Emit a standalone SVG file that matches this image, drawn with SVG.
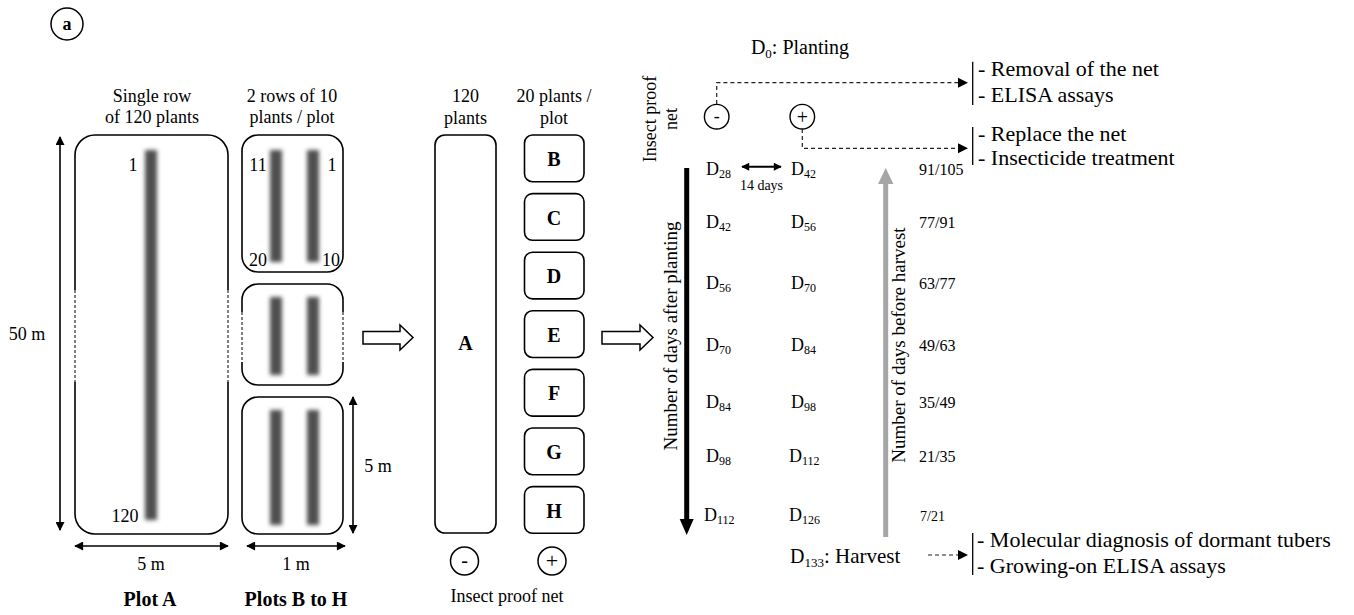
<svg xmlns="http://www.w3.org/2000/svg" width="1354" height="615" viewBox="0 0 1354 615">
<defs>
<style>
text{font-family:"Liberation Serif","Times New Roman",serif;fill:#000}
.s14{font-size:14px}.s16{font-size:16px}.s18{font-size:18px}.s19{font-size:19px}.s20{font-size:20px}.s22{font-size:22px}
.b{font-weight:bold}
.m{text-anchor:middle}
.box{fill:#fff;stroke:#000;stroke-width:1.6}
.ln{fill:none;stroke:#000;stroke-width:1.6}
.dash{fill:none;stroke:#000;stroke-width:1;stroke-dasharray:3 2}
.dl{fill:none;stroke:#222;stroke-width:1.2;stroke-dasharray:4 3}
.br{stroke:#000;stroke-width:1.3}
.bar{fill:#4f4f4f;filter:url(#blur)}
.blk{fill:#fff;stroke:#000;stroke-width:1.5}
</style>
<filter id="blur" x="-100%" y="-5%" width="300%" height="110%"><feGaussianBlur stdDeviation="2.3"/></filter>
<marker id="ah" viewBox="0 0 10 10" refX="9" refY="5" markerUnits="userSpaceOnUse" markerWidth="11" markerHeight="9" orient="auto-start-reverse"><path d="M0,0 L10,5 L0,10 z" fill="#000"/></marker>
<marker id="ahs" viewBox="0 0 10 10" refX="9" refY="5" markerUnits="userSpaceOnUse" markerWidth="9" markerHeight="8" orient="auto-start-reverse"><path d="M0,0 L10,5 L0,10 z" fill="#000"/></marker>
</defs>

<g id="label-a"><circle cx="67" cy="24" r="16" fill="none" stroke="#000" stroke-width="1.5"/><text x="67" y="30" class="s18 b m">a</text></g>

<g id="plot-a">
<text x="152" y="102" class="s18 m">Single row</text>
<text x="152" y="123" class="s18 m">of 120 plants</text>
<path class="ln" d="M75,290 V155 A20,20 0 0 1 95,135 H208 A20,20 0 0 1 228,155 V290"/>
<path class="ln" d="M75,382 V514 A20,20 0 0 0 95,534 H208 A20,20 0 0 0 228,514 V382"/>
<path class="dash" d="M75,290 V382 M228,290 V382"/>
<rect class="bar" x="145" y="150" width="12" height="370"/>
<text x="133" y="171" class="s18 m">1</text>
<text x="125" y="522" class="s18 m">120</text>
<text x="150" y="606" class="s20 b m">Plot A</text>
</g>

<g id="plots-bh">
<text x="292" y="102" class="s18 m">2 rows of 10</text>
<text x="292" y="123" class="s18 m">plants / plot</text>
<rect class="box" x="242" y="135" width="101" height="137" rx="16"/>
<path class="ln" d="M242,312 V300 A16,16 0 0 1 258,284 H327 A16,16 0 0 1 343,300 V312"/>
<path class="ln" d="M242,362 V369 A16,16 0 0 0 258,385 H327 A16,16 0 0 0 343,369 V362"/>
<path class="dash" d="M242,312 V362 M343,312 V362"/>
<rect class="box" x="242" y="397" width="101" height="137" rx="16"/>
<rect class="bar" x="270" y="150" width="12" height="112"/>
<rect class="bar" x="307" y="150" width="12" height="112"/>
<rect class="bar" x="270" y="297" width="12" height="78"/>
<rect class="bar" x="307" y="297" width="12" height="78"/>
<rect class="bar" x="270" y="410" width="12" height="115"/>
<rect class="bar" x="307" y="410" width="12" height="115"/>
<text x="258" y="171" class="s18 m">11</text>
<text x="332" y="171" class="s18 m">1</text>
<text x="258" y="266" class="s18 m">20</text>
<text x="331" y="266" class="s18 m">10</text>
<text x="296" y="606" class="s20 b m">Plots B to H</text>
</g>

<g id="dimensions">
<line class="ln" x1="60" y1="137" x2="60" y2="530" marker-start="url(#ah)" marker-end="url(#ah)"/>
<text x="27" y="340" class="s18 m">50 m</text>
<line class="ln" x1="75" y1="546" x2="228" y2="546" marker-start="url(#ah)" marker-end="url(#ah)"/>
<text x="151" y="570" class="s18 m">5 m</text>
<line class="ln" x1="247" y1="546" x2="345" y2="546" marker-start="url(#ah)" marker-end="url(#ah)"/>
<text x="296" y="570" class="s18 m">1 m</text>
<line class="ln" x1="353" y1="397" x2="353" y2="533" marker-start="url(#ah)" marker-end="url(#ah)"/>
<text x="378" y="472" class="s18 m">5 m</text>
</g>

<g id="block-arrows">
<polygon class="blk" points="363,331.5 400,331.5 400,325 413,337.5 400,350 400,344 363,344"/>
<polygon class="blk" points="602,331.5 640,331.5 640,325 653,337.5 640,350 640,344 602,344"/>
</g>

<g id="layout">
<text x="465.5" y="102" class="s18 m">120</text>
<text x="465.5" y="124" class="s18 m">plants</text>
<text x="554" y="102" class="s18 m">20 plants /</text>
<text x="554" y="124" class="s18 m">plot</text>
<rect class="box" x="435" y="135" width="61" height="398" rx="10"/>
<text x="465.5" y="350" class="s20 b m">A</text>
<g id="box-b"><rect class="box" x="524.5" y="135" width="59.5" height="46.7" rx="8"/><text x="554" y="166" class="s20 b m">B</text></g>
<g id="box-c"><rect class="box" x="524.5" y="193.6" width="59.5" height="46.7" rx="8"/><text x="554" y="224.6" class="s20 b m">C</text></g>
<g id="box-d"><rect class="box" x="524.5" y="252.2" width="59.5" height="46.7" rx="8"/><text x="554" y="283.2" class="s20 b m">D</text></g>
<g id="box-e"><rect class="box" x="524.5" y="310.8" width="59.5" height="46.7" rx="8"/><text x="554" y="341.8" class="s20 b m">E</text></g>
<g id="box-f"><rect class="box" x="524.5" y="369.4" width="59.5" height="46.7" rx="8"/><text x="554" y="400.4" class="s20 b m">F</text></g>
<g id="box-g"><rect class="box" x="524.5" y="428" width="59.5" height="46.7" rx="8"/><text x="554" y="459" class="s20 b m">G</text></g>
<g id="box-h"><rect class="box" x="524.5" y="486.6" width="59.5" height="46.7" rx="8"/><text x="554" y="517.6" class="s20 b m">H</text></g>
<circle cx="464.5" cy="561" r="14" fill="none" stroke="#000" stroke-width="1.5"/>
<text x="464.5" y="567" class="s20 m">-</text>
<circle cx="552" cy="561" r="14" fill="none" stroke="#000" stroke-width="1.5"/>
<text x="552" y="568" class="s22 m">+</text>
<text x="507" y="602" class="s18 m">Insect proof net</text>
</g>

<g id="timeline">
<text x="800" y="54" class="s20 m">D<tspan class="s13" font-size="13" dy="4">0</tspan><tspan dy="-4">: Planting</tspan></text>
<text transform="translate(656,119) rotate(-90)" class="s18 m">Insect proof</text>
<text transform="translate(677,119) rotate(-90)" class="s18 m">net</text>
<circle cx="716.7" cy="116.7" r="12.3" fill="none" stroke="#000" stroke-width="1.4"/>
<text x="716.7" y="122" class="s18 m">-</text>
<circle cx="802.3" cy="116.7" r="12.3" fill="none" stroke="#000" stroke-width="1.4"/>
<text x="802.3" y="123.5" class="s20 m">+</text>

<text x="706" y="175" class="s18">D<tspan font-size="12" dy="3">28</tspan></text>
<text x="791" y="175" class="s18">D<tspan font-size="12" dy="3">42</tspan></text>
<text x="761.5" y="190" class="s14 m">14 days</text>
<text x="706" y="228" class="s18">D<tspan font-size="12" dy="3">42</tspan></text>
<text x="791" y="228" class="s18">D<tspan font-size="12" dy="3">56</tspan></text>
<text x="706" y="289" class="s18">D<tspan font-size="12" dy="3">56</tspan></text>
<text x="791" y="289" class="s18">D<tspan font-size="12" dy="3">70</tspan></text>
<text x="706" y="351" class="s18">D<tspan font-size="12" dy="3">70</tspan></text>
<text x="791" y="351" class="s18">D<tspan font-size="12" dy="3">84</tspan></text>
<text x="706" y="408" class="s18">D<tspan font-size="12" dy="3">84</tspan></text>
<text x="791" y="408" class="s18">D<tspan font-size="12" dy="3">98</tspan></text>
<text x="706" y="462" class="s18">D<tspan font-size="12" dy="3">98</tspan></text>
<text x="789" y="462" class="s18">D<tspan font-size="12" dy="3">112</tspan></text>
<text x="704" y="521" class="s18">D<tspan font-size="12" dy="3">112</tspan></text>
<text x="789" y="521" class="s18">D<tspan font-size="12" dy="3">126</tspan></text>

<text x="919" y="175" class="s16">91/105</text>
<text x="919" y="228" class="s16">77/91</text>
<text x="919" y="289" class="s16">63/77</text>
<text x="919" y="351" class="s16">49/63</text>
<text x="919" y="408" class="s16">35/49</text>
<text x="919" y="462" class="s16">21/35</text>
<text x="920" y="521" class="s14">7/21</text>

<text transform="translate(677,336) rotate(-90)" class="s19 m">Number of days after planting</text>
<text transform="translate(905,345) rotate(-90)" class="s19 m">Number of days before harvest</text>

<text x="790" y="563" class="s20">D<tspan font-size="13" dy="4">133</tspan><tspan dy="-4" font-size="21">: Harvest</tspan></text>
</g>

<g id="connectors">
<line x1="742" y1="166.7" x2="781" y2="166.7" stroke="#000" stroke-width="2" marker-start="url(#ahs)" marker-end="url(#ahs)"/>
<line x1="686.7" y1="168" x2="686.7" y2="520" stroke="#000" stroke-width="5"/>
<polygon points="679.7,519 693.7,519 686.7,535" fill="#000"/>
<line x1="885.7" y1="183" x2="885.7" y2="537" stroke="#a6a6a6" stroke-width="5"/>
<polygon points="878,184 893.4,184 885.7,168" fill="#a6a6a6"/>
<path class="dl" d="M716.7,104 V82.7 H960"/>
<polygon points="958,77.7 968,82.7 958,87.7" fill="#000"/>
<path class="dl" d="M802.3,129 V148.3 H960"/>
<polygon points="958,143.3 968,148.3 958,153.3" fill="#000"/>
<path class="dl" d="M928,555 H960"/>
<polygon points="958,550 968,555 958,560" fill="#000"/>
<line class="br" x1="972.7" y1="61.7" x2="972.7" y2="105"/>
<line class="br" x1="972.7" y1="127" x2="972.7" y2="165"/>
<line class="br" x1="972.7" y1="533" x2="972.7" y2="575"/>
</g>

<g id="outcomes">
<text x="978" y="76" class="s22">- Removal of the net</text>
<text x="978" y="102" class="s22">- ELISA assays</text>
<text x="978" y="140.5" class="s22">- Replace the net</text>
<text x="978" y="164.5" class="s22">- Insecticide treatment</text>
<text x="977" y="547" class="s22">- Molecular diagnosis of dormant tubers</text>
<text x="977" y="573" class="s22">- Growing-on ELISA assays</text>
</g>
</svg>
